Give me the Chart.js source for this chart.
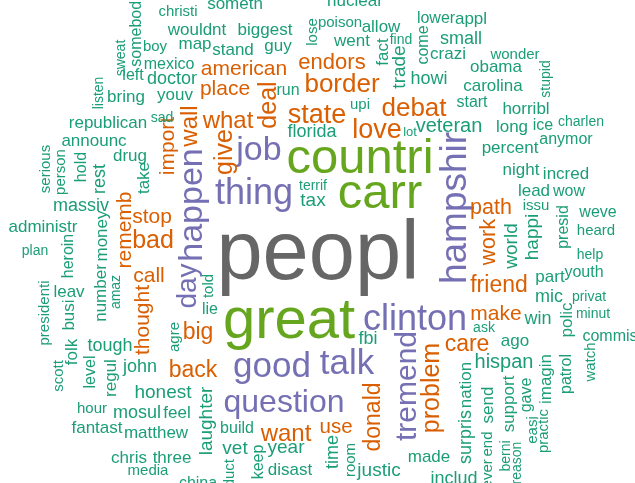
<!DOCTYPE html>
<html>
<head>
<meta charset="utf-8">
<script src="https://cdn.jsdelivr.net/npm/chart.js@4.4.1/dist/chart.umd.min.js"></script>
<style>
  html, body { margin: 0; padding: 0; background: #fff; }
  canvas { display: block; }
</style>
</head>
<body>
<canvas id="cloud" width="635" height="483"></canvas>
<script>
// mots (racines) du nuage
const words = [
  'peopl','great','countri','carr','hampshir','clinton','thing','talk','good','happen',
  'job','question','tremend','day','love','state','border','debat','bad','deal',
  'give','problem','what','wall','back','big','want','donald','care','friend',
  'endors','path','work','american','place','import','rememb','stop','call','thought',
  'make','use','veteran','hispan','laughter','year','vet','honest','tax','world',
  'happi','trade','justic','howi','rest','time','massiv','doctor','fbi','surpris',
  'includ','mosul','small','tough','john','win','mic','florida','fact','republican',
  'bring','announc','drug','youv','administr','take','money','number','leav','busi',
  'folk','regul','fantast','matthew','chris','three','feel','disast','wouldnt','biggest',
  'map','stand','guy','someth','nuclear','appl','allow','went','crazi','obama',
  'carolina','horribl','long','percent','nation','made','ago','polic','imagin','support',
  'send','night','incred','lead','part','mexico','level','heroin','run','lower',
  'come','start','anymor','ice','patrol','gave','build','keep','china','hold',
  'somebodi','presid','wow','youth','weve','commiss','left','lie','boy','serious',
  'person','christi','presidenti','scott','hour','media','agre','told','poison','practic',
  'easi','watch','wonder','end','issu','heard','upi','room','never','product',
  'sweat','listen','sad','plan','amaz','stupid','charlen','ask','berni','reason',
  'terrif','help','privat','minut','find','lot','lose'
]
// frequences
const counts = [
  166,116,98,98,74,72,72,70,70,68,
  68,64,60,56,54,54,52,52,50,50,
  50,50,48,48,46,46,48,46,46,46,
  44,43,44,42,42,42,42,42,42,42,
  42,41,40,40,38,38,38,38,38,38,
  38,38,38,36,36,36,36,36,36,36,
  36,36,36,36,36,36,36,36,34,34,
  34,34,34,34,34,34,34,34,34,34,
  34,34,34,34,34,34,34,34,34,34,
  34,34,34,34,34,34,34,34,34,34,
  34,34,34,34,34,34,34,34,34,34,
  34,34,34,34,34,32,32,32,32,32,
  32,32,32,32,32,32,32,32,32,32,
  32,32,32,32,32,32,32,32,30,30,
  30,30,30,30,30,30,30,30,30,30,
  30,30,30,30,30,30,30,30,30,30,
  28,28,28,28,28,28,28,28,28,28,
  28,28,28,28,28,26,30
]
// position de chaque mot dans le nuage
const posX = [
  318,289,360,380,453,415,254,347,272,190,
  259,284,405,186,377,317,342,414,153,267,
  223,430,228,188,193,198,286,372,467,499,
  332,491,487,244,225,166,123,152,149,141,
  496,336,449,504,205,286,235,163,313,510,
  531,398,379,429,99,332,81,172,368,465,
  454,137,461,110,140,538,549,312,382,108,
  126,94,130,175,43,143,101,100,69,68,
  71,110,97,156,129,172,177,290,197,265,
  195,233,278,235,355,471,381,352,448,496,
  493,526,512,510,465,429,515,566,545,508,
  487,521,566,534,550,169,89,67,288,436,
  422,472,566,543,565,525,237,257,198,80,
  135,562,569,584,598,614,133,210,155,45,
  60,178,44,58,92,148,174,208,340,543,
  532,590,515,487,536,596,360,350,487,229,
  120,98,162,35,115,545,581,484,505,516,
  313,590,589,593,401,410,312
]
const posY = [
  249,317,155,190,208,317,191,361,364,205,
  148,400,386,286,128,113,83,107,239,105,
  152,388,119,126,369,331,432,417,343,284,
  61,206,242,67,87,146,230,215,274,320,
  312,426,125,361,421,446,447,391,199,246,
  237,67,469,78,179,452,205,78,338,437,
  478,412,38,345,366,318,296,131,52,122,
  96,140,155,94,226,178,236,293,291,315,
  352,378,427,432,457,457,412,469,29,29,
  43,49,45,3,0,18,26,40,53,66,
  85,108,126,147,385,456,340,320,379,404,
  405,169,173,190,276,63,372,256,89,17,
  45,101,138,124,374,395,427,462,482,167,
  32,227,190,271,211,335,74,308,46,169,
  172,11,313,376,408,470,337,286,22,431,
  430,362,54,444,205,230,104,460,478,484,
  58,93,117,250,292,79,121,327,456,463,
  185,254,296,313,39,131,32
]
// 1 = mot vertical
const vertical = [
  0,0,0,0,1,0,0,0,0,1,
  0,0,1,1,0,0,0,0,0,1,
  1,1,0,1,0,0,0,1,0,0,
  0,0,1,0,0,1,1,0,0,1,
  0,0,0,0,1,0,0,0,0,1,
  1,1,0,0,1,1,0,0,0,1,
  0,0,0,0,0,0,0,0,1,0,
  0,0,0,0,0,1,1,1,0,1,
  1,1,0,0,0,0,0,0,0,0,
  0,0,0,0,0,0,0,0,0,0,
  0,0,0,0,1,0,0,1,1,1,
  1,0,0,0,0,0,1,1,0,0,
  1,0,0,0,1,1,0,1,0,1,
  1,1,0,0,0,0,0,0,0,1,
  1,0,1,1,0,0,1,1,0,1,
  1,1,0,1,0,0,0,1,1,1,
  1,1,0,0,1,1,0,0,1,1,
  0,0,0,0,0,0,1
]

function colorFor(n) {
  if (n >= 150) return '#666666'
  if (n >= 90) return '#66A61E'
  if (n >= 56) return '#7570B3'
  if (n >= 41) return '#D95F02'
  return '#1B9E77'
}

// plugin qui ecrit les mots a la place des points
const wordPlugin = {
  id: 'words',
  afterDatasetsDraw(chart) {
    const ctx = chart.ctx
    const meta = chart.getDatasetMeta(0)
    meta.data.forEach((pt, i) => {
      const size = counts[i] / 2
      ctx.save()
      ctx.font = size + 'px "Liberation Sans", Arial, sans-serif'
      ctx.fillStyle = colorFor(counts[i])
      ctx.textAlign = 'center'
      ctx.textBaseline = 'alphabetic'
      ctx.translate(pt.x, pt.y)
      if (vertical[i]) ctx.rotate(-Math.PI / 2)
      ctx.fillText(words[i], 0, size * 0.36)
      ctx.restore()
    })
  }
}

new Chart(document.getElementById('cloud'), {
  type: 'scatter',
  data: {
    datasets: [{
      data: words.map((w, i) => ({ x: posX[i], y: posY[i] })),
      pointRadius: 0,
      pointHoverRadius: 0
    }]
  },
  options: {
    responsive: false,
    devicePixelRatio: 1,
    animation: false,
    layout: { padding: 0 },
    plugins: { legend: { display: false }, tooltip: { enabled: false } },
    scales: {
      x: { type: 'linear', min: 0, max: 635, display: false },
      y: { type: 'linear', min: 0, max: 483, reverse: true, display: false }
    }
  },
  plugins: [wordPlugin]
})
</script>
</body>
</html>
